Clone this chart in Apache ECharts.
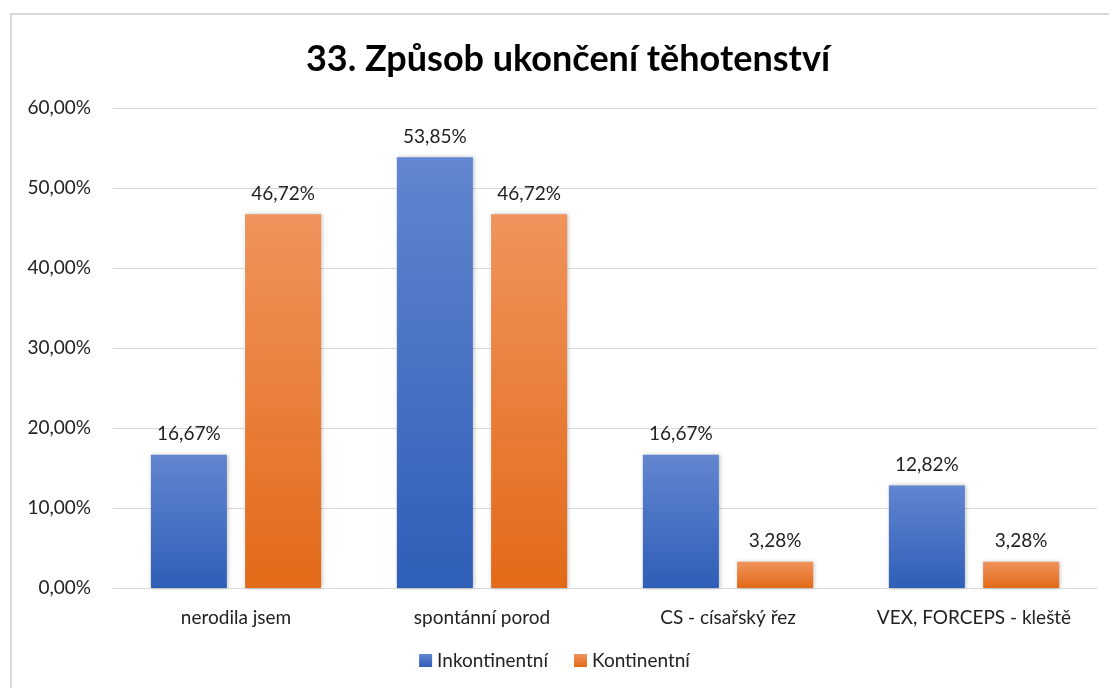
<!DOCTYPE html>
<html>
<head>
<meta charset="utf-8">
<script src="https://cdn.jsdelivr.net/npm/echarts@6/dist/echarts.min.js"></script>
<style>
  html, body { margin: 0; padding: 0; background: #fff; }
  #chart { width: 1109px; height: 688px; }
</style>
</head>
<body>
<div id="chart"></div>
<script>
const categories = ['nerodila jsem', 'spontánní porod', 'CS - císařský řez', 'VEX, FORCEPS - kleště'];
const inkontinentni = [16.67, 53.85, 16.67, 12.82];
const kontinentni = [46.72, 46.72, 3.28, 3.28];
const yTicks = [0, 10, 20, 30, 40, 50, 60];

const fmt = v => v.toFixed(2).replace('.', ',') + '%';
const font = 'Lato, "Open Sans", sans-serif';

const chart = echarts.init(document.getElementById('chart'));

function grad(top, bottom) {
  return new echarts.graphic.LinearGradient(0, 0, 0, 1, [
    { offset: 0, color: top },
    { offset: 1, color: bottom }
  ]);
}

const option = {
  animation: false,
  textStyle: { fontFamily: font },
  title: {
    text: '33. Způsob ukončení těhotenství',
    left: 563,
    top: 36,
    textAlign: 'center',
    textStyle: { fontSize: 36, fontWeight: 'bold', color: '#000', fontFamily: font }
  },
  graphic: [{
    type: 'rect',
    shape: { x: 11, y: 14, width: 1110, height: 700 },
    style: { fill: 'none', stroke: '#d9d9d9', lineWidth: 2 },
    silent: true
  }],
  legend: {
    bottom: 13,
    left: 'center',
    itemWidth: 13,
    itemHeight: 13,
    itemGap: 26,
    icon: 'rect',
    textStyle: { fontSize: 19, color: '#222', fontFamily: font },
    data: ['Inkontinentní', 'Kontinentní']
  },
  grid: { left: 113, right: 12, top: 108, bottom: 100 },
  xAxis: {
    type: 'category',
    data: categories,
    axisLine: { show: true, lineStyle: { color: '#d9d9d9', width: 1 } },
    axisTick: { show: false },
    axisLabel: { fontSize: 19, color: '#222', margin: 20, interval: 0, hideOverlap: false, fontFamily: font }
  },
  yAxis: {
    type: 'value',
    min: yTicks[0],
    max: yTicks[yTicks.length - 1],
    interval: 10,
    axisLine: { show: false },
    axisTick: { show: false },
    splitLine: { lineStyle: { color: '#d9d9d9', width: 1 } },
    axisLabel: { fontSize: 19, color: '#222', margin: 22, formatter: v => fmt(v), fontFamily: font }
  },
  series: [
    {
      name: 'Inkontinentní',
      type: 'bar',
      data: inkontinentni,
      barWidth: 76,
      barGap: '24%',
      itemStyle: {
        color: grad('#6286cf', '#2f5eb8'),
        shadowColor: 'rgba(0,0,0,0.25)',
        shadowBlur: 4,
        shadowOffsetX: 1
      },
      label: {
        show: true, position: 'top', distance: 11,
        fontSize: 19, color: '#222', formatter: p => fmt(p.value), fontFamily: font
      }
    },
    {
      name: 'Kontinentní',
      type: 'bar',
      data: kontinentni,
      barWidth: 76,
      itemStyle: {
        color: grad('#f0935c', '#e26a18'),
        shadowColor: 'rgba(0,0,0,0.25)',
        shadowBlur: 4,
        shadowOffsetX: 1
      },
      label: {
        show: true, position: 'top', distance: 11,
        fontSize: 19, color: '#222', formatter: p => fmt(p.value), fontFamily: font
      }
    }
  ]
};

chart.setOption(option);
</script>
</body>
</html>
